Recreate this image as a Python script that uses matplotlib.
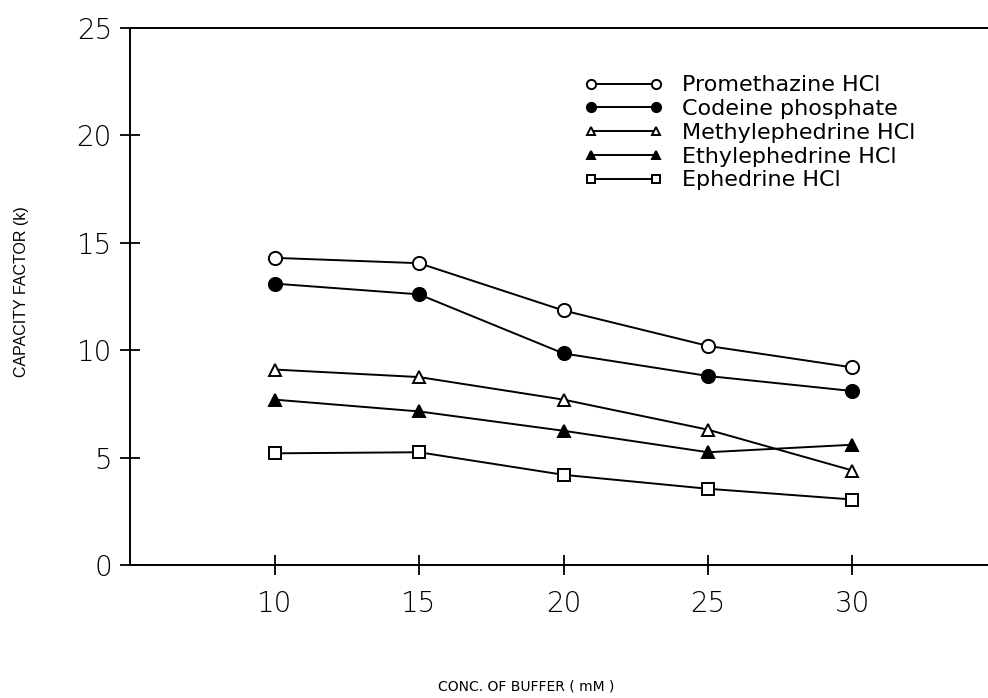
import matplotlib
matplotlib.use('Agg')
import matplotlib.pyplot as plt

# buffer concentration (mM) and capacity factors
conc = [10, 15, 20, 25, 30]
promethazine = [14.3, 14.05, 11.85, 10.2, 9.2]
codeine = [13.1, 12.6, 9.85, 8.8, 8.1]
methylephedrine = [9.1, 8.75, 7.7, 6.3, 4.4]
ethylephedrine = [7.7, 7.15, 6.25, 5.25, 5.6]
ephedrine = [5.2, 5.25, 4.2, 3.55, 3.05]

series = [
    ('Promethazine HCl', promethazine, 'o', 'white'),
    ('Codeine phosphate', codeine, 'o', 'black'),
    ('Methylephedrine HCl', methylephedrine, '^', 'white'),
    ('Ethylephedrine HCl', ethylephedrine, '^', 'black'),
    ('Ephedrine HCl', ephedrine, 's', 'white'),
]

plt.rcParams['font.family'] = ['DejaVu Sans']

fig = plt.figure(figsize=(9.88, 6.98), dpi=100)
ax = fig.add_axes([0.1316, 0.1905, 0.8775, 0.7694])

for label, vals, mk, fc in series:
    ms = {'o': 9.5, '^': 9, 's': 8.5}[mk]
    ax.plot(conc, vals, color='black', lw=1.4, marker=mk, markersize=ms,
            markerfacecolor=fc, markeredgecolor='black', markeredgewidth=1.4,
            label=label)

ax.set_xlim(5, 35)
ax.set_ylim(0, 25)
ax.set_xticks(conc)
ax.set_yticks([0, 5, 10, 15, 20, 25])
ax.tick_params(direction='inout', length=14, width=1.3, labelsize=20)
ax.tick_params(axis='x', pad=11)
ax.tick_params(axis='y', pad=6)
for lab in ax.get_xticklabels() + ax.get_yticklabels():
    lab.set_fontweight('light')
for s in ax.spines.values():
    s.set_linewidth(1.4)

ax.set_ylabel('CAPACITY FACTOR (k)', fontsize=11.5, family='Liberation Sans')
ax.yaxis.set_label_coords(-0.117, 0.51)
ax.set_xlabel('CONC. OF BUFFER ( mM )', fontsize=10)
ax.xaxis.set_label_coords(0.457, -0.213)

ax.legend(loc='upper left', bbox_to_anchor=(0.591, 0.892),
          bbox_transform=fig.transFigure, frameon=False, borderpad=0,
          borderaxespad=0, numpoints=2, handlelength=3.56, fontsize=16,
          labelspacing=0.17, handletextpad=0.84, markerscale=0.7)

plt.savefig('out.png', dpi=100)
